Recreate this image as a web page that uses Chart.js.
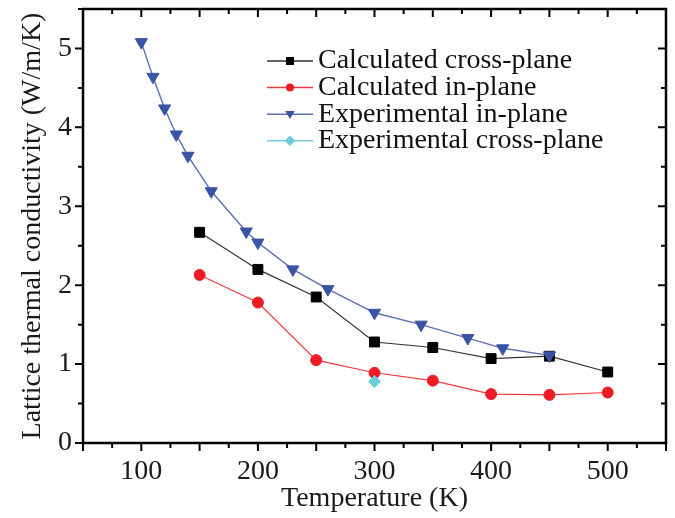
<!DOCTYPE html>
<html>
<head>
<meta charset="utf-8">
<script src="https://cdn.jsdelivr.net/npm/chart.js@4.4.1/dist/chart.umd.min.js"></script>
<style>
  html, body { margin: 0; padding: 0; background: #fff; }
</style>
</head>
<body>
<canvas id="chart" width="675" height="518"></canvas>
<script>
// values: temperature (K) -> conductivity (W/m/K)
const calcTemps = [150, 200, 250, 300, 350, 400, 450, 500];
const calcCross = [2.67, 2.20, 1.85, 1.28, 1.21, 1.07, 1.10, 0.90];
const calcIn = [2.13, 1.78, 1.05, 0.89, 0.79, 0.62, 0.61, 0.64];
const expInTemps = [100, 110, 120, 130, 140, 160, 190, 200, 230, 260, 300, 340, 380, 410, 450];
const expIn = [5.08, 4.64, 4.24, 3.91, 3.64, 3.19, 2.68, 2.54, 2.20, 1.95, 1.65, 1.50, 1.33, 1.20, 1.11];
const expCrossTemps = [300];
const expCross = [0.78];

const xTicks = [100, 200, 300, 400, 500];
const yTicks = [0, 1, 2, 3, 4, 5];
const seriesNames = ["Calculated cross-plane", "Calculated in-plane", "Experimental in-plane", "Experimental cross-plane"];

const FONT = "'Liberation Serif', 'Times New Roman', serif";

function pairs(xs, ys) {
  return xs.map((t, i) => ({ x: t, y: ys[i] }));
}

// box round the plot with inward ticks on top/right, outward on bottom/left
const frame = {
  id: "frame",
  afterDraw(chart) {
    const { ctx, chartArea: a, scales } = chart;
    const x = scales.x, y = scales.y;
    ctx.save();
    ctx.strokeStyle = "#000";
    ctx.lineWidth = 2.5;
    ctx.strokeRect(a.left, a.top, a.right - a.left, a.bottom - a.top);
    ctx.lineWidth = 2;
    ctx.beginPath();
    for (let v = 50; v <= 550; v += 25) {
      const px = x.getPixelForValue(v);
      const len = v % 50 === 0 ? 8 : 5;
      ctx.moveTo(px, a.bottom); ctx.lineTo(px, a.bottom + len);
      ctx.moveTo(px, a.top); ctx.lineTo(px, a.top + len);
    }
    for (let v = 0; v <= 5.5; v += 0.5) {
      const py = y.getPixelForValue(v);
      const len = v % 1 === 0 ? 8 : 5;
      ctx.moveTo(a.left, py); ctx.lineTo(a.left - len, py);
      ctx.moveTo(a.right, py); ctx.lineTo(a.right - len, py);
    }
    ctx.stroke();
    ctx.restore();
  }
};

function marker(ctx, style, cx, cy, r) {
  ctx.beginPath();
  if (style === "rect") {
    ctx.rect(cx - r, cy - r, 2 * r, 2 * r);
  } else if (style === "circle") {
    ctx.arc(cx, cy, r, 0, Math.PI * 2);
  } else if (style === "triangle") { // pointing down
    ctx.moveTo(cx - r * 1.2, cy - r * 0.8);
    ctx.lineTo(cx + r * 1.2, cy - r * 0.8);
    ctx.lineTo(cx, cy + r * 1.2);
    ctx.closePath();
  } else {
    ctx.moveTo(cx, cy - r * 1.3);
    ctx.lineTo(cx + r * 1.3, cy);
    ctx.lineTo(cx, cy + r * 1.3);
    ctx.lineTo(cx - r * 1.3, cy);
    ctx.closePath();
  }
  ctx.fill();
}

// legend drawn as line-marker-line like the original
const keyBox = {
  id: "keyBox",
  afterDraw(chart) {
    const ctx = chart.ctx;
    const x0 = 267, x1 = 313;
    ctx.save();
    ctx.font = "28px " + FONT;
    ctx.textBaseline = "middle";
    chart.data.datasets.forEach((ds, i) => {
      const yy = 61 + i * 26.6;
      ctx.strokeStyle = ds.borderColor;
      ctx.lineWidth = 1.5;
      ctx.beginPath();
      ctx.moveTo(x0, yy); ctx.lineTo(x1, yy);
      ctx.stroke();
      ctx.fillStyle = ds.pointBackgroundColor;
      marker(ctx, ds.pointStyle, (x0 + x1) / 2, yy, 4);
      ctx.fillStyle = "#111";
      ctx.fillText(ds.label, 318, yy);
    });
    ctx.restore();
  }
};

function noPad(s) {
  s.paddingTop = 0;
  s.paddingBottom = 0;
  s.paddingLeft = 0;
  s.paddingRight = 0;
}

const ctx = document.getElementById("chart").getContext("2d");
const chart = new Chart(ctx, {
  type: "line",
  data: {
    datasets: [
      {
        label: seriesNames[0],
        data: pairs(calcTemps, calcCross),
        borderColor: "#333333",
        borderWidth: 1.2,
        pointStyle: "rect",
        pointRadius: 7,
        pointBackgroundColor: "#000000",
        pointBorderColor: "#000000",
        pointBorderWidth: 1,
        order: 4,
      },
      {
        label: seriesNames[1],
        data: pairs(calcTemps, calcIn),
        borderColor: "#ee3a3f",
        borderWidth: 1.2,
        pointStyle: "circle",
        pointRadius: 5.5,
        pointBackgroundColor: "#ec1c24",
        pointBorderColor: "#ec1c24",
        pointBorderWidth: 1,
        order: 3,
      },
      {
        label: seriesNames[2],
        data: pairs(expInTemps, expIn),
        borderColor: "#5b6fb6",
        borderWidth: 1.4,
        pointStyle: "triangle",
        pointRotation: 180,
        pointRadius: 7,
        pointBackgroundColor: "#3a53a4",
        pointBorderColor: "#3a53a4",
        pointBorderWidth: 1,
        order: 2,
      },
      {
        label: seriesNames[3],
        data: pairs(expCrossTemps, expCross),
        borderColor: "#6dcbdb",
        borderWidth: 1.4,
        pointStyle: "rectRot",
        pointRadius: 6,
        pointBackgroundColor: "#6dcbdb",
        pointBorderColor: "#6dcbdb",
        pointBorderWidth: 1,
        order: 1,
      },
    ],
  },
  options: {
    responsive: false,
    animation: false,
    layout: { padding: { top: 9, right: 9, left: 0, bottom: 0 } },
    plugins: {
      legend: { display: false },
      tooltip: { enabled: false },
    },
    scales: {
      x: {
        type: "linear",
        min: 50,
        max: 550,
        afterBuildTicks: (s) => { s.ticks = xTicks.map((v) => ({ value: v })); },
        afterFit: (s) => { s.height = 75; noPad(s); },
        grid: { display: false, drawTicks: false },
        border: { display: false },
        ticks: { font: { family: FONT, size: 28 }, color: "#1a1a1a", padding: 12, maxRotation: 0, autoSkip: false },
        title: {
          display: true,
          text: "Temperature (K)",
          font: { family: FONT, size: 28 },
          color: "#1a1a1a",
          padding: { top: 0, bottom: 3 },
        },
      },
      y: {
        min: 0,
        max: 5.5,
        afterBuildTicks: (s) => { s.ticks = yTicks.map((v) => ({ value: v })); },
        afterFit: (s) => { s.width = 83; noPad(s); },
        grid: { display: false, drawTicks: false },
        border: { display: false },
        ticks: { font: { family: FONT, size: 28 }, color: "#1a1a1a", padding: 11 },
        title: {
          display: true,
          text: "Lattice thermal conductivity (W/m/K)",
          font: { family: FONT, size: 28 },
          color: "#1a1a1a",
          padding: { top: 16, bottom: 0 },
        },
      },
    },
  },
  plugins: [frame, keyBox],
});
</script>
</body>
</html>
